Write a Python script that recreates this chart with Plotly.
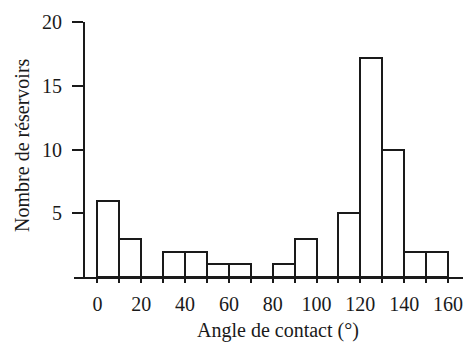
import plotly.graph_objects as go

# Histogram bins (left edges, width 10) and counts
bin_left = [0, 10, 20, 30, 40, 50, 60, 70, 80, 90, 100, 110, 120, 130, 140, 150]
counts = [6, 3, 0, 2, 2, 1, 1, 0, 1, 3, 0, 5, 17.2, 10, 2, 2]
bin_width = 10
x_ticks = [0, 20, 40, 60, 80, 100, 120, 140, 160]
minor_ticks = [10, 30, 50, 70, 90, 110, 130, 150]
y_ticks = [5, 10, 15, 20]
x_title = "Angle de contact (°)"
y_title = "Nombre de réservoirs"

centers = [b + bin_width / 2 for b in bin_left]

FONT = "Liberation Serif, Times New Roman, serif"
INK = "#1a1a1a"

fig = go.Figure(
    go.Bar(
        x=centers,
        y=counts,
        width=[bin_width] * len(centers),
        marker=dict(color="white", line=dict(color=INK, width=2)),
        showlegend=False,
    )
)

# The page body has an 8px default margin, so the figure is 8px smaller
fig.update_layout(
    width=463,
    height=335,
    margin=dict(l=66, r=0, t=14, b=66, autoexpand=False),
    paper_bgcolor="white",
    plot_bgcolor="white",
    font=dict(family=FONT, size=20, color=INK),
    bargap=0,
    annotations=[
        dict(text=x_title, xref="paper", yref="paper", x=0.514, y=-0.21,
             xanchor="center", yanchor="middle", showarrow=False,
             font=dict(size=20, family=FONT, color=INK)),
        dict(text=y_title, xref="paper", yref="paper", x=-0.131, y=0.518,
             xanchor="center", yanchor="middle", showarrow=False, textangle=-90,
             font=dict(size=20, family=FONT, color=INK)),
    ],
)

fig.update_xaxes(
    range=[-10.7, 170.5],
    domain=[0, 1],
    automargin=False,
    showline=True,
    linewidth=2,
    linecolor=INK,
    showgrid=False,
    zeroline=False,
    ticks="outside",
    ticklen=4,
    tickwidth=2,
    tickcolor=INK,
    tickvals=x_ticks,
    ticktext=[str(v) for v in x_ticks],
    minor=dict(tickvals=minor_ticks, ticks="outside", ticklen=4, tickwidth=2, tickcolor=INK),
    ticklabelstandoff=4,
)

fig.update_yaxes(
    range=[0, 20],
    anchor="free",
    position=0.025,
    automargin=False,
    showline=True,
    linewidth=2,
    linecolor=INK,
    showgrid=False,
    zeroline=False,
    ticks="outside",
    ticklen=11,
    tickwidth=2,
    tickcolor=INK,
    tickvals=y_ticks,
    ticktext=[str(v) for v in y_ticks],
    ticklabelstandoff=6,
)

fig.write_html("out.html")
